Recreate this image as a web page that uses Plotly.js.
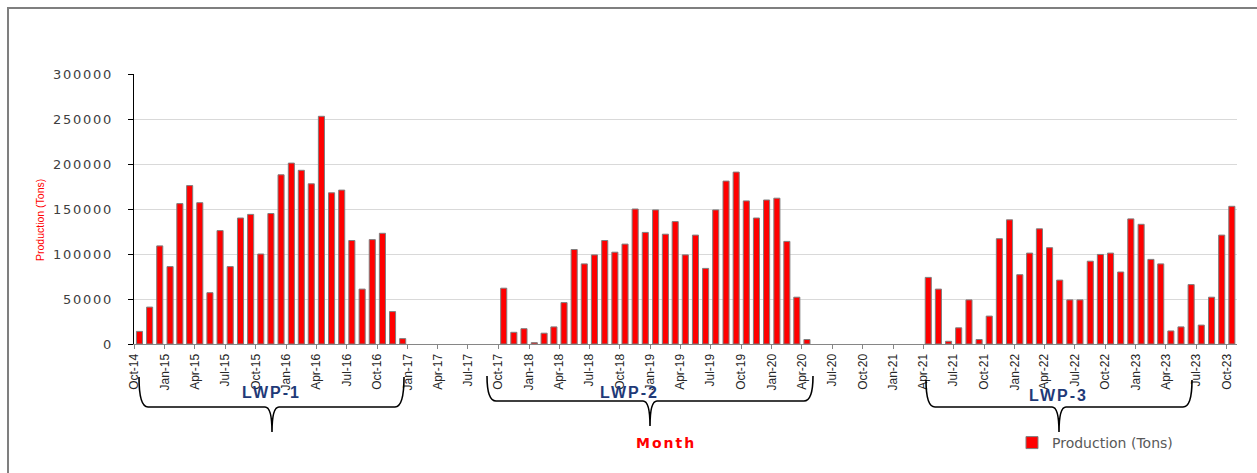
<!DOCTYPE html>
<html>
<head>
<meta charset="utf-8">
<script src="https://cdn.plot.ly/plotly-3.0.1.min.js"></script>
<style>
  html, body { margin: 0; padding: 0; background: #ffffff; }
  #chart { width: 1257px; height: 473px; }
  #chart .ytick text { letter-spacing: 1.7px; }
</style>
</head>
<body>
<div id="chart"></div>
<script>
// Months (Oct-14 .. Oct-23)
const months = [
  "2014-10","2014-11","2014-12",
  "2015-01","2015-02","2015-03","2015-04","2015-05","2015-06","2015-07","2015-08","2015-09","2015-10","2015-11","2015-12",
  "2016-01","2016-02","2016-03","2016-04","2016-05","2016-06","2016-07","2016-08","2016-09","2016-10","2016-11","2016-12",
  "2017-01","2017-02","2017-03","2017-04","2017-05","2017-06","2017-07","2017-08","2017-09","2017-10","2017-11","2017-12",
  "2018-01","2018-02","2018-03","2018-04","2018-05","2018-06","2018-07","2018-08","2018-09","2018-10","2018-11","2018-12",
  "2019-01","2019-02","2019-03","2019-04","2019-05","2019-06","2019-07","2019-08","2019-09","2019-10","2019-11","2019-12",
  "2020-01","2020-02","2020-03","2020-04","2020-05","2020-06","2020-07","2020-08","2020-09","2020-10","2020-11","2020-12",
  "2021-01","2021-02","2021-03","2021-04","2021-05","2021-06","2021-07","2021-08","2021-09","2021-10","2021-11","2021-12",
  "2022-01","2022-02","2022-03","2022-04","2022-05","2022-06","2022-07","2022-08","2022-09","2022-10","2022-11","2022-12",
  "2023-01","2023-02","2023-03","2023-04","2023-05","2023-06","2023-07","2023-08","2023-09","2023-10"
];

// Production (Tons) per phase
const lwp1 = [14000, 41000, 109000, 86000, 156000, 176000, 157000, 57000, 126000, 86000,
              140000, 144000, 100000, 145000, 188000, 201000, 193000, 178000, 253000, 168000,
              171000, 115000, 61000, 116000, 123000, 36000, 6000];               // Oct-14 .. Dec-16
const gap1 = [null, null, null, null, null, null, null, null, null];           // Jan-17 .. Sep-17
const lwp2 = [62000, 13000, 17000, 1500, 12000, 19000, 46000, 105000, 89000, 99000,
              115000, 102000, 111000, 150000, 124000, 149000, 122000, 136000, 99000, 121000,
              84000, 149000, 181000, 191000, 159000, 140000, 160000, 162000, 114000, 52000, 5000]; // Oct-17 .. Apr-20
const gap2 = [null, null, null, null, null, null, null, null, null, null, null]; // May-20 .. Mar-21
const lwp3 = [74000, 61000, 3000, 18000, 49000, 5000, 31000, 117000, 138000, 77000,
              101000, 128000, 107000, 71000, 49000, 49000, 92000, 99500, 101000, 80000,
              139000, 133000, 94000, 89000, 14500, 19000, 66000, 21000, 52000, 121000, 153000]; // Apr-21 .. Oct-23

const production = [].concat(lwp1, gap1, lwp2, gap2, lwp3);

const phaseLabels = ["LWP-1", "LWP-2", "LWP-3"];
const yTicks = [0, 50000, 100000, 150000, 200000, 250000, 300000];

// ---- layout geometry helpers (pixel -> paper) ----
const M = { l: 134, r: 20, t: 74, b: 129 };
const PW = 1257 - M.l - M.r, PH = 473 - M.t - M.b;
const px = v => ((v - M.l) / PW).toFixed(5);
const py = v => ((473 - M.b - v) / PH).toFixed(5);

function brace(x0, x1, xm, yTop, yLine, yTip) {
  const r = 9, s = 7;
  return "M" + px(x0) + "," + py(yTop) +
    " Q" + px(x0) + "," + py(yLine) + " " + px(x0 + r) + "," + py(yLine) +
    " L" + px(xm - s) + "," + py(yLine) +
    " Q" + px(xm) + "," + py(yLine) + " " + px(xm) + "," + py(yTip) +
    " Q" + px(xm) + "," + py(yLine) + " " + px(xm + s) + "," + py(yLine) +
    " L" + px(x1 - r) + "," + py(yLine) +
    " Q" + px(x1) + "," + py(yLine) + " " + px(x1) + "," + py(yTop);
}

const braces = [
  brace(139, 404, 272, 377, 407, 432),
  brace(487, 813, 650, 376, 401, 426),
  brace(926, 1192, 1059, 380, 407, 432)
];
const labelPos = [[272, 393], [630, 392], [1059, 395]];

const trace = {
  type: "bar",
  name: "Production (Tons)",
  x: months,
  y: production,
  xperiod: "M1",
  xperiodalignment: "middle",
  marker: { color: "#ff0000", line: { color: "#7f7f7f", width: 1 } },
  hoverinfo: "skip"
};

const shapes = [
  { type: "rect", xref: "paper", yref: "paper", x0: px(8), y0: py(8), x1: 1.2, y1: -0.8,
    line: { color: "#7f7f7f", width: 2 }, fillcolor: "rgba(0,0,0,0)", layer: "below" }
].concat(braces.map(p => ({
  type: "path", xref: "paper", yref: "paper", path: p,
  line: { color: "#000000", width: 1.6 }
})));

const annotations = phaseLabels.map((t, i) => ({
  text: "<span style=\"letter-spacing:2px\"><b>" + t + "</b></span>", xref: "paper", yref: "paper",
  x: px(labelPos[i][0]), y: py(labelPos[i][1]), showarrow: false,
  xanchor: "center", yanchor: "middle",
  font: { family: "Liberation Sans, Arial, sans-serif", size: 16, color: "#1f3a78" }
})).concat([
  { text: "<span style=\"letter-spacing:2px\"><b>Month</b></span>", xref: "paper", yref: "paper", x: px(666), y: py(443),
    showarrow: false, xanchor: "center", yanchor: "middle",
    font: { family: "DejaVu Sans, Verdana, sans-serif", size: 14, color: "#ff0000" } },
  { text: "Production (Tons)", xref: "paper", yref: "paper", x: px(40), y: py(220),
    showarrow: false, textangle: -90, xanchor: "center", yanchor: "middle",
    font: { family: "Liberation Sans, Arial, sans-serif", size: 10.5, color: "#ff0000" } }
]);

const layout = {
  width: 1257, height: 473,
  margin: M,
  paper_bgcolor: "#ffffff", plot_bgcolor: "#ffffff",
  bargap: 0.38,
  showlegend: true,
  legend: {
    orientation: "h", x: px(1012), xanchor: "left", y: py(443), yanchor: "middle",
    font: { family: "DejaVu Sans, Verdana, sans-serif", size: 14, color: "#595959" },
    bgcolor: "rgba(0,0,0,0)"
  },
  xaxis: {
    type: "date",
    range: ["2014-09-30", "2023-11-01"],
    tick0: "2014-10-01", dtick: "M3",
    tickformat: "%b-%y",
    tickangle: -90,
    ticks: "outside", ticklen: 4, tickcolor: "#868686",
    showline: true, linecolor: "#868686", linewidth: 1,
    showgrid: false, zeroline: false,
    tickfont: { family: "Liberation Sans, Arial, sans-serif", size: 12, color: "#262626" }
  },
  yaxis: {
    range: [0, 300000],
    tickvals: yTicks,
    tickformat: "d",
    ticks: "outside", ticklen: 5, tickcolor: "#000000",
    showline: true, linecolor: "#000000", linewidth: 1.5,
    showgrid: true, gridcolor: "#d9d9d9", gridwidth: 1,
    zeroline: false,
    ticklabelstandoff: 12,
    tickfont: { family: "DejaVu Sans, Verdana, sans-serif", size: 13, color: "#404040" }
  },
  shapes: shapes,
  annotations: annotations
};

Plotly.newPlot("chart", [trace], layout, { staticPlot: true, displayModeBar: false });
</script>
</body>
</html>
